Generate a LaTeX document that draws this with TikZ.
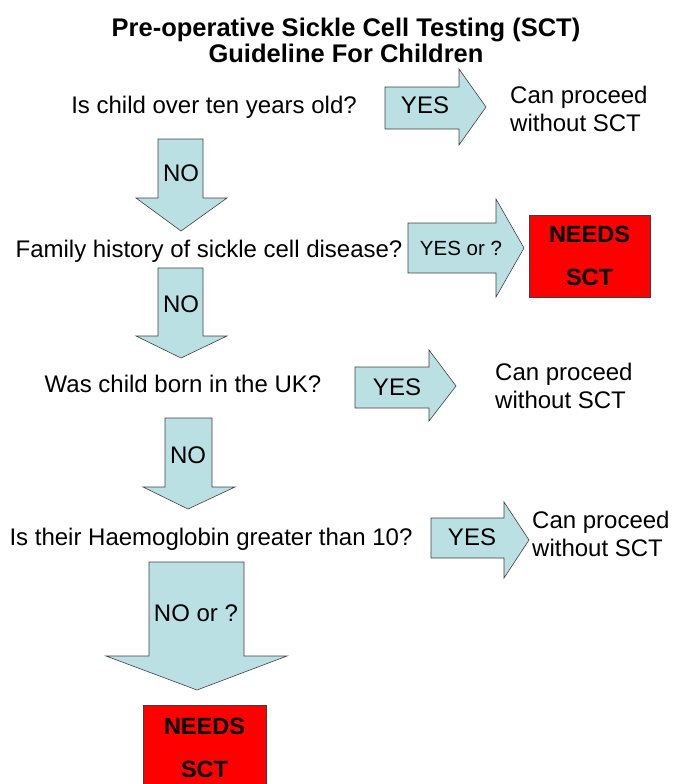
\documentclass[tikz,border=0pt]{standalone}
\usepackage{fontspec}
\setmainfont{Liberation Sans}
\usetikzlibrary{positioning}
\definecolor{arrowblue}{RGB}{187,224,227}

\begin{document}
\begin{tikzpicture}[
        x=1pt, y=-1pt,
        % Styles
        blockarrow/.style={draw=black!75, fill=arrowblue, line width=0.6pt},
        needsbox/.style={rectangle, draw=black!75, fill=red, line width=0.6pt, align=center, inner sep=0pt, font=\bfseries\fontsize{23.5}{43}\selectfont},
        question/.style={anchor=base, inner sep=0pt, font=\fontsize{24}{28}\selectfont},
        answer/.style={anchor=base, inner sep=0pt, font=\fontsize{24}{28}\selectfont},
        proceed/.style={anchor=south west, align=left, inner sep=0pt, font=\fontsize{24}{28}\selectfont}
    ]
        \useasboundingbox (0,0) rectangle (672,784);

        % Title
        \node (title) [anchor=south, align=center, inner sep=0pt, font=\bfseries\fontsize{25.5}{26}\selectfont] at (346,63) {Pre-operative Sickle Cell Testing (SCT)\\Guideline For Children};

        % Step 1: age
        \node (q1) [question] at (214,113) {Is child over ten years old?};
        \draw [blockarrow] (385,87) -- (459,87) -- (459,69) -- (486,107) -- (459,145) -- (459,129) -- (385,129) -- cycle;
        \node (yes1) [answer] at (425,113) {YES};
        \node (proceed1) [proceed] at (510,132) {Can proceed\\without SCT};
        \draw [blockarrow] (158,139) -- (203,139) -- (203,198) -- (227,198) -- (181,231) -- (136,198) -- (158,198) -- cycle;
        \node (no1) [answer] at (181,181) {NO};

        % Step 2: family history
        \node (q2) [question] at (209,257) {Family history of sickle cell disease?};
        \draw [blockarrow] (408,223) -- (496,223) -- (496,199) -- (524,248) -- (496,297) -- (496,273) -- (408,273) -- cycle;
        \node (yes2) [answer, font=\fontsize{20.5}{24}\selectfont] at (461,255) {YES or ?};
        \node (needs1) [needsbox, minimum width=121pt, minimum height=82pt] at (589.5,256) {NEEDS\\SCT};
        \draw [blockarrow] (158,268) -- (203,268) -- (203,336) -- (227,336) -- (181,358) -- (136,336) -- (158,336) -- cycle;
        \node (no2) [answer] at (181,312) {NO};

        % Step 3: born in the UK
        \node (q3) [question] at (183,392) {Was child born in the UK?};
        \draw [blockarrow] (355,367) -- (429,367) -- (429,350) -- (456,386) -- (429,421) -- (429,408) -- (355,408) -- cycle;
        \node (yes3) [answer] at (397,395) {YES};
        \node (proceed3) [proceed] at (495,409) {Can proceed\\without SCT};
        \draw [blockarrow] (165,418) -- (212,418) -- (212,487) -- (235,487) -- (188,509) -- (143,487) -- (165,487) -- cycle;
        \node (no3) [answer] at (188,463) {NO};

        % Step 4: haemoglobin
        \node (q4) [question] at (211,545) {Is their Haemoglobin greater than 10?};
        \draw [blockarrow] (431,518) -- (504,518) -- (504,502) -- (529,540) -- (504,578) -- (504,558) -- (431,558) -- cycle;
        \node (yes4) [answer] at (472,545) {YES};
        \node (proceed4) [proceed] at (532,557) {Can proceed\\without SCT};
        \draw [blockarrow] (149,562) -- (244,562) -- (244,656) -- (287,656) -- (197,690) -- (106,656) -- (149,656) -- cycle;
        \node (no4) [answer] at (196,621) {NO or ?};
        \node (needs2) [needsbox, minimum width=123pt, minimum height=85pt] at (204.5,747.5) {NEEDS\\SCT};

    \end{tikzpicture}
\end{document}
